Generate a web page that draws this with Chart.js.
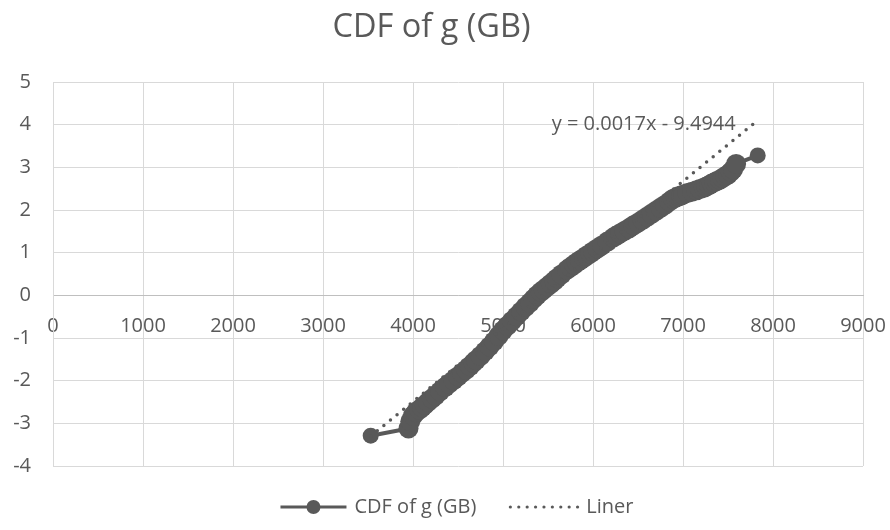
<!DOCTYPE html>
<html>
<head>
<meta charset="utf-8">
<script src="https://cdn.jsdelivr.net/npm/chart.js@4/dist/chart.umd.min.js"></script>
<style>
  html, body { margin: 0; padding: 0; background: #fff; }
  #wrap { width: 890px; height: 530px; }
</style>
</head>
<body>
<div id="wrap"><canvas id="cdfChart" width="890" height="530"></canvas></div>
<script>
// values
const cdfX = [3530, 3950, 3970, 4000, 4030, 4070, 4100, 4130, 4167, 4210, 4250, 4300, 4356, 4400, 4450, 4500, 4544,
  4590, 4633, 4670, 4700, 4750, 4800, 4850, 4900, 4950, 5000, 5050, 5100, 5150, 5200, 5250, 5300, 5340, 5378,
  5420, 5450, 5490, 5530, 5570, 5600, 5650, 5711, 5750, 5790, 5820, 5856, 5900, 5930, 5970, 6000, 6050, 6100,
  6160, 6222, 6260, 6300, 6350, 6400, 6450, 6500, 6550, 6600, 6650, 6700, 6750, 6800, 6850, 6889, 6920, 6950,
  6980, 7000, 7050, 7100, 7150, 7189, 7230, 7260, 7290, 7320, 7350, 7378, 7410, 7440, 7470, 7500, 7530, 7556,
  7590, 7830];
const cdfY = [-3.29, -3.12, -2.95, -2.82, -2.74, -2.68, -2.63, -2.57, -2.5, -2.42, -2.35, -2.25, -2.15, -2.07, -1.99, -1.9, -1.82,
  -1.74, -1.66, -1.58, -1.52, -1.42, -1.31, -1.2, -1.08, -0.95, -0.82, -0.71, -0.6, -0.49, -0.38, -0.27, -0.17, -0.08, 0.0,
  0.08, 0.13, 0.2, 0.27, 0.34, 0.4, 0.49, 0.6, 0.66, 0.72, 0.77, 0.82, 0.88, 0.93, 0.98, 1.03, 1.1, 1.17,
  1.26, 1.35, 1.4, 1.45, 1.51, 1.57, 1.64, 1.7, 1.77, 1.84, 1.91, 1.98, 2.05, 2.12, 2.2, 2.26, 2.29, 2.32,
  2.34, 2.36, 2.4, 2.43, 2.46, 2.49, 2.52, 2.55, 2.58, 2.62, 2.65, 2.68, 2.71, 2.75, 2.79, 2.83, 2.89, 2.95,
  3.08, 3.28];
const trendX = [3530, 7830];
const trendY = [-3.3, 4.1];
const xTicks = [0, 1000, 2000, 3000, 4000, 5000, 6000, 7000, 8000, 9000];
const yTicks = [-4, -3, -2, -1, 0, 1, 2, 3, 4, 5];
const seriesNames = ['CDF of g (GB)', 'Liner'];
const chartTitle = 'CDF of g (GB)';
const trendLabel = 'y = 0.0017x - 9.4944';

const grey = '#595959';
const fontFamily = "'Open Sans', sans-serif";
const tickFont = { size: 20, family: fontFamily };

const trendText = {
    id: 'trendText',
    afterDatasetsDraw(chart) {
        const ctx = chart.ctx;
        const xs = chart.scales.x, ys = chart.scales.y;
        const px = xs.getPixelForValue(trendX[1]);
        const py = ys.getPixelForValue(trendY[1]);
        ctx.save();
        ctx.font = '20px ' + fontFamily;
        ctx.fillStyle = grey;
        ctx.textAlign = 'right';
        ctx.textBaseline = 'middle';
        ctx.fillText(trendLabel, px - 22, py + 4);
        ctx.restore();
    }
};

// legend drawn by hand: line with marker, then dotted line
const bottomLegend = {
    id: 'bottomLegend',
    afterDraw(chart) {
        const ctx = chart.ctx;
        const y = chart.height - 23;
        ctx.save();
        ctx.font = '20px ' + fontFamily;
        const w0 = ctx.measureText(seriesNames[0]).width;
        const w1 = ctx.measureText(seriesNames[1]).width;
        const total = 66 + 8 + w0 + 32 + 70 + 8 + w1;
        let x = chart.width / 2 - total / 2 + 12;

        ctx.strokeStyle = grey;
        ctx.fillStyle = grey;
        ctx.lineWidth = 3;
        ctx.beginPath(); ctx.moveTo(x, y); ctx.lineTo(x + 66, y); ctx.stroke();
        ctx.beginPath(); ctx.arc(x + 33, y, 7, 0, Math.PI * 2); ctx.fill();
        x += 66 + 8;
        ctx.textAlign = 'left';
        ctx.textBaseline = 'middle';
        ctx.fillText(seriesNames[0], x, y);
        x += w0 + 32;

        for (let i = 0; i < 9; i++) {
            ctx.beginPath(); ctx.arc(x + 2 + i * 8.4, y, 1.6, 0, Math.PI * 2); ctx.fill();
        }
        x += 70 + 8;
        ctx.fillText(seriesNames[1], x, y);
        ctx.restore();
    }
};

const ctx = document.getElementById('cdfChart').getContext('2d');
new Chart(ctx, {
    type: 'scatter',
    data: {
        datasets: [
            {
                label: seriesNames[0],
                data: cdfX.map((x, i) => ({ x: x, y: cdfY[i] })),
                showLine: true,
                borderColor: grey,
                backgroundColor: grey,
                borderWidth: 4,
                pointRadius: cdfX.map((x, i) => (i === 0 || i === cdfX.length - 1) ? 8 : 10),
                pointBorderWidth: 0,
                pointBackgroundColor: grey,
                order: 2
            },
            {
                label: seriesNames[1],
                data: trendX.map((x, i) => ({ x: x, y: trendY[i] })),
                showLine: true,
                borderColor: grey,
                borderWidth: 3.5,
                borderDash: [0, 8.5],
                borderCapStyle: 'round',
                pointRadius: 0,
                order: 1
            }
        ]
    },
    options: {
        responsive: false,
        animation: false,
        layout: { padding: { top: 0, right: 27, bottom: 64, left: 0 } },
        scales: {
            x: {
                type: 'linear',
                min: 0,
                max: 9000,
                position: { y: 0 },
                afterBuildTicks: (s) => { s.ticks = xTicks.map(v => ({ value: v })); },
                afterFit: (s) => { s.paddingLeft = 0; s.paddingRight = 0; },
                grid: { color: '#d9d9d9', lineWidth: 1, drawTicks: false },
                border: { color: '#bfbfbf', width: 1 },
                ticks: { color: grey, font: tickFont, padding: 19, maxRotation: 0, callback: (v) => String(v) }
            },
            y: {
                min: -4,
                max: 5,
                afterBuildTicks: (s) => { s.ticks = yTicks.map(v => ({ value: v })); },
                afterFit: (s) => { s.width = 53; },
                grid: { color: '#d9d9d9', lineWidth: 1, drawTicks: false },
                border: { color: '#d9d9d9', width: 1 },
                ticks: { color: grey, font: tickFont, padding: 22 }
            }
        },
        plugins: {
            title: {
                display: true,
                text: chartTitle,
                color: grey,
                font: { size: 32.5, family: fontFamily, weight: 'normal' },
                padding: { top: 8, bottom: 35 }
            },
            legend: { display: false },
            tooltip: { enabled: false }
        }
    },
    plugins: [trendText, bottomLegend]
});
</script>
</body>
</html>
